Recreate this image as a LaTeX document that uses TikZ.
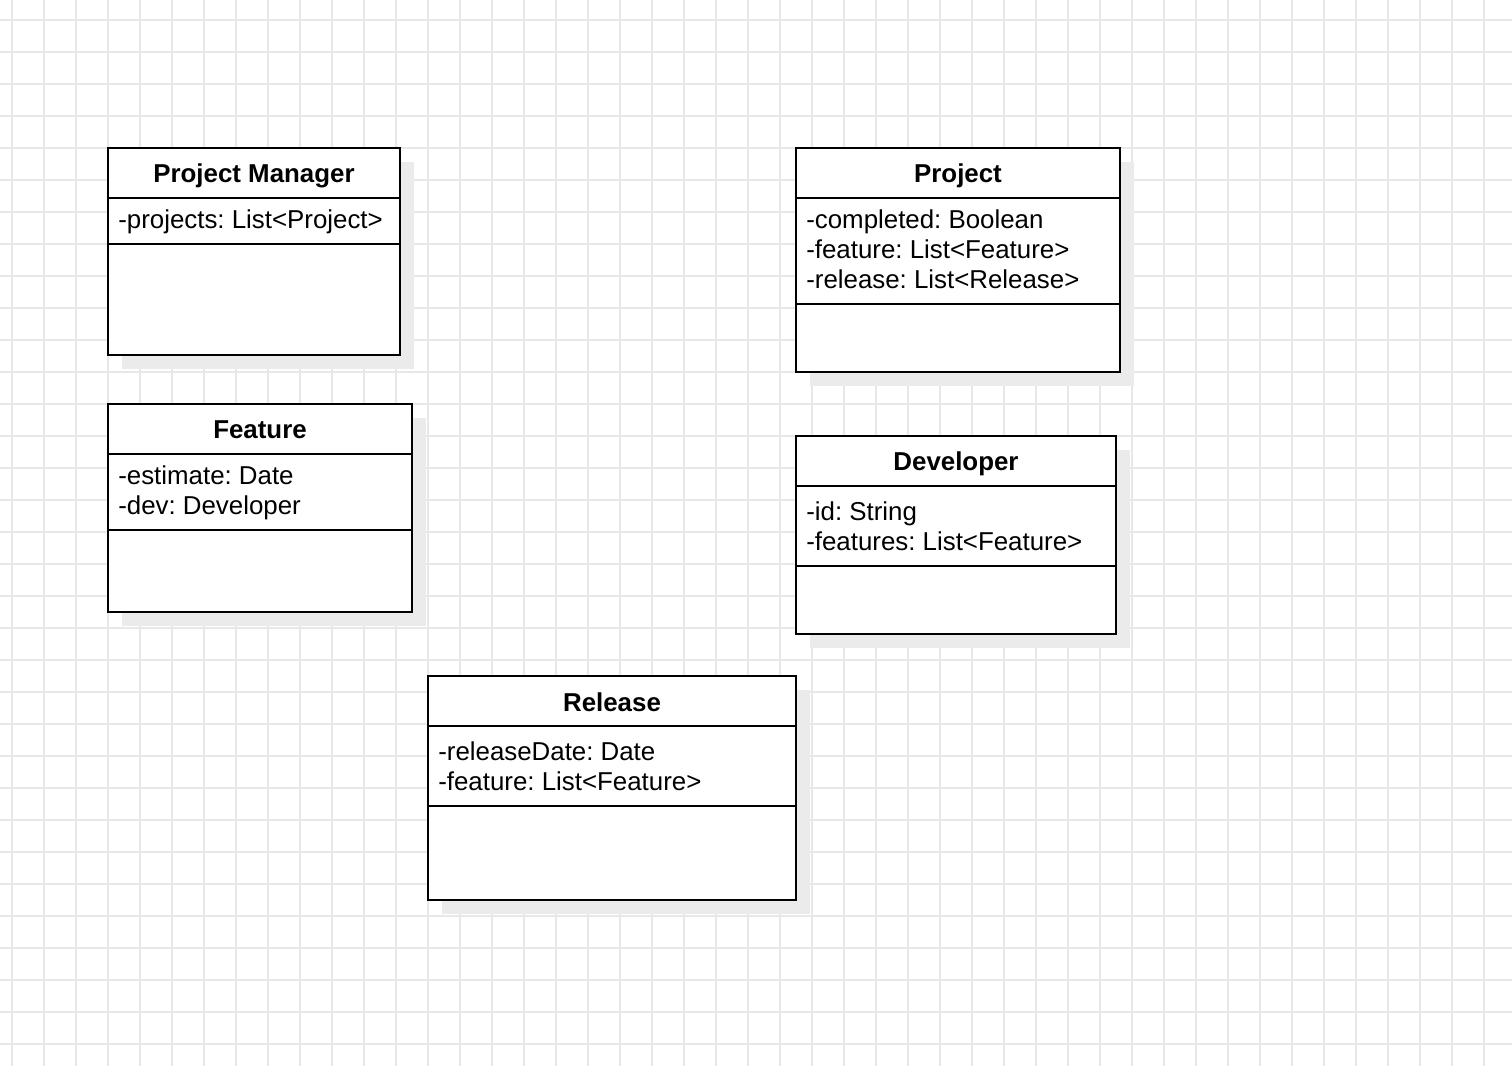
\documentclass[tikz,border=0pt]{standalone}
\usepackage{fontspec}
\setmainfont{Liberation Sans}
\frenchspacing
\begin{document}
\begin{tikzpicture}[x=0.75pt,y=-0.75pt,
	gridline/.style={draw=black!9,line width=1.2pt},
	shade/.style={fill=black!8},
	classbox/.style={draw=black,fill=white,line width=1.5pt},
	sepline/.style={draw=black,line width=1.5pt},
	classname/.style={font=\fontsize{19.4}{22.5}\selectfont\bfseries,inner sep=0pt},
	members/.style={font=\fontsize{19.4}{22.5}\selectfont,align=left,anchor=west,inner sep=0pt}]
	
	\useasboundingbox (0,0) rectangle (1512,1066);
	\fill[white] (0,0) rectangle (1512,1066);
	
	% background grid
	\foreach \gx in {12,44,...,1500} \draw[gridline] (\gx,0) -- (\gx,1066);
	\foreach \gy in {20,52,...,1066} \draw[gridline] (0,\gy) -- (1512,\gy);
	
	% Project Manager
	\fill[shade] (122,162) rectangle (414,369);
	\draw[classbox] (108,148) rectangle (400,355);
	\draw[sepline] (108,198) -- (400,198);
	\draw[sepline] (108,244) -- (400,244);
	\node[classname] (pmname) at (254,176) {Project Manager};
	\node[members] (pmattr) at (118,222) {-projects: List<Project>};
	
	% Project
	\fill[shade] (810,162) rectangle (1134,386);
	\draw[classbox] (796,148) rectangle (1120,372);
	\draw[sepline] (796,198) -- (1120,198);
	\draw[sepline] (796,304) -- (1120,304);
	\node[classname] (prjname) at (958,176) {Project};
	\node[members] (prjattr) at (806,249) {-completed: Boolean\\-feature: List<Feature>\\-release: List<Release>};
	
	% Feature
	\fill[shade] (122,418) rectangle (426,626);
	\draw[classbox] (108,404) rectangle (412,612);
	\draw[sepline] (108,454) -- (412,454);
	\draw[sepline] (108,530) -- (412,530);
	\node[classname] (featname) at (260,430) {Feature};
	\node[members] (featattr) at (118,493) {-estimate: Date\\-dev: Developer};
	
	% Developer
	\fill[shade] (810,450) rectangle (1130,648);
	\draw[classbox] (796,436) rectangle (1116,634);
	\draw[sepline] (796,486) -- (1116,486);
	\draw[sepline] (796,566) -- (1116,566);
	\node[classname] (devname) at (956,464) {Developer};
	\node[members] (devattr) at (806,526) {-id: String\\-features: List<Feature>};
	
	% Release
	\fill[shade] (442,690) rectangle (810,914);
	\draw[classbox] (428,676) rectangle (796,900);
	\draw[sepline] (428,726) -- (796,726);
	\draw[sepline] (428,806) -- (796,806);
	\node[classname] (relname) at (612,702) {Release};
	\node[members] (relattr) at (438,766) {-releaseDate: Date\\-feature: List<Feature>};
	
\end{tikzpicture}
\end{document}
